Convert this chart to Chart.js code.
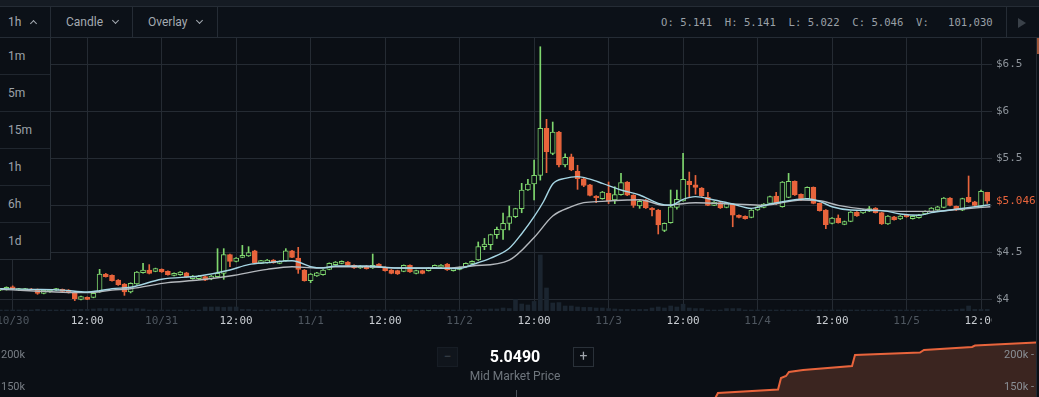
<!DOCTYPE html>
<html><head><meta charset="utf-8">
<script src="https://cdn.jsdelivr.net/npm/chart.js@4.4.1/dist/chart.umd.min.js"></script>
<style>
*{box-sizing:border-box}
html,body{margin:0;padding:0;background:#0b0f15;width:1039px;height:397px;overflow:hidden;font-family:Roboto,"Noto Sans",sans-serif;position:relative}
.abs{position:absolute}
#strip{left:0;top:0;width:1039px;height:7px;background:#151b23;border-bottom:1px solid #252c35}
#toolbar{left:0;top:7px;width:1039px;height:31px;background:#0c1118;border-bottom:1px solid #252c35}
.sep{position:absolute;top:7px;width:1px;height:30px;background:#252c35}
.tb{position:absolute;top:15px;font-size:12px;color:#a4aab1;line-height:14px}
.chev{position:absolute;width:5px;height:5px;border-right:1.5px solid #a4aab1;border-bottom:1.5px solid #a4aab1}
#ohlc{position:absolute;left:661px;top:16px;font-family:"DejaVu Sans Mono",monospace;font-size:10.6px;color:#9aa0a7;white-space:pre;line-height:12px}
#menu{left:0;top:38px;width:51px;height:222px;background:#0b0f15;border-right:1px solid #272e36;border-bottom:1px solid #272e36;z-index:5}
.mi{height:37px;border-bottom:1px solid #20262e;font-size:12px;color:#9ca2a9;padding-left:8px;line-height:37px}
.mi:last-child{border-bottom:none}
canvas{position:absolute;left:0}
</style></head>
<body>
<div id="strip" class="abs"></div>
<div id="toolbar" class="abs"></div>
<div class="sep" style="left:50px"></div>
<div class="sep" style="left:132px"></div>
<div class="sep" style="left:217px"></div>
<div class="sep" style="left:1006px"></div>
<div class="tb" style="left:8px">1h</div>
<div class="chev" style="left:31px;top:21px;transform:rotate(-135deg)"></div>
<div class="tb" style="left:66px">Candle</div>
<div class="chev" style="left:113px;top:18px;transform:rotate(45deg)"></div>
<div class="tb" style="left:148px">Overlay</div>
<div class="chev" style="left:197px;top:18px;transform:rotate(45deg)"></div>
<div id="ohlc">O: 5.141  H: 5.141  L: 5.022  C: 5.046  V:   101,030</div>
<div class="abs" style="left:1018px;top:18px;width:0;height:0;border-left:8px solid #3a4149;border-top:5px solid transparent;border-bottom:5px solid transparent"></div>

<canvas id="main" width="1036" height="297" style="top:38px"></canvas>
<canvas id="depth" width="1036" height="59" style="top:338px"></canvas>

<div id="menu" class="abs">
  <div class="mi">1m</div><div class="mi">5m</div><div class="mi">15m</div>
  <div class="mi">1h</div><div class="mi">6h</div><div class="mi">1d</div>
</div>

<div class="abs" style="left:1036px;top:38px;width:1px;height:359px;background:#222931"></div>
<div class="abs" style="left:1037px;top:38px;width:2px;height:16px;background:#a1573a"></div>

<div class="abs" style="left:437px;top:347px;width:21px;height:20px;background:#10151c;border:1px solid #171d25;color:#3b424a;font-size:14px;line-height:17px;text-align:center">−</div>
<div class="abs" style="left:573px;top:347px;width:21px;height:20px;border:1px solid #2a3139;color:#a0a6ad;font-size:14px;line-height:17px;text-align:center">+</div>
<div class="abs" style="left:465px;top:347px;width:100px;text-align:center;font-size:16px;font-weight:bold;color:#ffffff;line-height:20px">5.0490</div>
<div class="abs" style="left:455px;top:369px;width:120px;text-align:center;font-size:12px;color:#6f767d;line-height:14px">Mid Market Price</div>
<div class="abs" style="left:516px;top:390px;width:1px;height:7px;background:#4a5058"></div>

<script>
// ---------- data ----------
const firstHour = -2; // hours relative to 10/30 00:00, one candle per hour
const opens = [
4.100,4.108,4.136,4.101,4.101,4.112,4.108,4.066,4.080,4.101,
4.108,4.101,4.080,4.002,4.023,4.023,4.080,4.271,4.257,4.207,
4.165,4.080,4.165,4.285,4.314,4.300,4.321,4.300,4.257,4.264,
4.285,4.222,4.222,4.243,4.222,4.243,4.278,4.477,4.406,4.449,
4.463,4.519,4.385,4.392,4.420,4.385,4.413,4.519,4.441,4.314,
4.200,4.250,4.264,4.321,4.371,4.385,4.399,4.363,4.335,4.356,
4.335,4.378,4.342,4.314,4.307,4.300,4.363,4.278,4.307,4.307,
4.335,4.343,4.378,4.307,4.320,4.343,4.385,4.420,4.562,4.583,
4.690,4.740,4.810,4.880,4.966,5.165,5.229,5.321,5.821,5.555,
5.782,5.433,5.519,5.364,5.285,5.221,5.100,5.072,5.130,5.060,
5.115,5.250,5.110,4.995,5.059,4.973,4.952,4.735,4.817,4.980,
5.050,5.257,5.221,5.186,5.087,5.002,5.030,4.980,5.016,4.896,
4.885,4.874,4.952,4.980,5.023,5.101,4.987,5.087,5.257,5.120,
5.072,5.193,5.023,4.952,4.810,4.867,4.800,4.832,4.931,4.920,
4.940,4.973,4.924,4.803,4.880,4.856,4.900,4.860,4.870,4.910,
4.935,4.952,4.980,5.080,4.990,4.950,5.087,5.040,4.990,5.141];
const highs = [
4.120,4.135,4.145,4.120,4.120,4.118,4.112,4.108,4.106,4.120,
4.112,4.106,4.085,4.036,4.028,4.072,4.321,4.278,4.262,4.212,
4.170,4.178,4.298,4.385,4.371,4.334,4.326,4.305,4.284,4.298,
4.290,4.256,4.256,4.248,4.256,4.541,4.541,4.482,4.446,4.576,
4.562,4.524,4.418,4.426,4.425,4.412,4.541,4.524,4.555,4.319,
4.276,4.290,4.319,4.390,4.404,4.411,4.404,4.368,4.361,4.361,
4.484,4.383,4.347,4.319,4.312,4.368,4.368,4.312,4.312,4.340,
4.368,4.372,4.383,4.337,4.348,4.390,4.411,4.612,4.650,4.695,
4.770,4.920,4.995,4.971,5.236,5.279,5.484,6.689,5.917,5.888,
5.790,5.550,5.547,5.428,5.290,5.226,5.105,5.150,5.250,5.200,
5.342,5.255,5.115,5.065,5.064,4.978,4.957,4.815,5.165,5.165,
5.555,5.356,5.320,5.191,5.140,5.042,5.035,5.025,5.021,4.901,
4.890,4.957,4.992,5.021,5.099,5.140,5.255,5.342,5.262,5.125,
5.198,5.198,5.028,4.957,4.872,4.900,4.835,4.936,4.936,4.957,
4.990,4.978,4.929,4.893,4.885,4.893,4.905,4.890,4.905,4.943,
4.978,4.992,5.085,5.085,4.995,5.078,5.314,5.045,5.165,5.141];
const lows = [
4.095,4.100,4.110,4.095,4.095,4.105,4.055,4.060,4.075,4.096,
4.082,4.068,3.988,3.996,3.998,4.018,4.075,4.238,4.195,4.150,
4.044,4.070,4.160,4.280,4.272,4.295,4.288,4.258,4.250,4.258,
4.236,4.216,4.210,4.200,4.210,4.236,4.215,4.349,4.400,4.444,
4.458,4.386,4.380,4.386,4.386,4.380,4.408,4.444,4.278,4.195,
4.179,4.245,4.258,4.316,4.366,4.380,4.358,4.330,4.330,4.323,
4.330,4.344,4.302,4.273,4.266,4.295,4.288,4.273,4.273,4.302,
4.330,4.338,4.309,4.302,4.315,4.338,4.380,4.415,4.530,4.530,
4.650,4.640,4.740,4.870,4.923,5.160,5.060,5.270,5.349,5.540,
5.410,5.410,5.370,5.172,5.200,5.103,5.030,5.067,5.020,5.020,
5.110,5.105,4.980,4.970,4.968,4.888,4.697,4.722,4.812,4.960,
5.045,5.094,5.120,5.096,4.997,4.997,4.968,4.975,4.774,4.869,
4.855,4.869,4.947,4.975,5.018,5.011,4.982,5.082,5.107,5.054,
5.067,5.018,4.940,4.753,4.805,4.812,4.795,4.827,4.885,4.915,
4.935,4.919,4.798,4.798,4.845,4.851,4.875,4.855,4.865,4.905,
4.930,4.947,4.975,4.995,4.947,4.945,5.032,4.995,4.985,5.022];
const closes = [
4.115,4.129,4.115,4.115,4.115,4.110,4.066,4.101,4.101,4.115,
4.087,4.073,4.009,4.030,4.002,4.066,4.271,4.243,4.200,4.158,
4.080,4.172,4.293,4.314,4.278,4.328,4.293,4.264,4.278,4.293,
4.243,4.250,4.250,4.207,4.250,4.278,4.477,4.406,4.441,4.470,
4.498,4.392,4.413,4.420,4.392,4.406,4.519,4.449,4.321,4.200,
4.271,4.285,4.314,4.385,4.399,4.406,4.363,4.335,4.356,4.328,
4.363,4.349,4.307,4.278,4.271,4.363,4.293,4.307,4.278,4.335,
4.363,4.367,4.314,4.332,4.343,4.385,4.406,4.562,4.590,4.690,
4.746,4.810,4.881,4.966,5.165,5.229,5.321,5.821,5.573,5.782,
5.431,5.512,5.378,5.285,5.215,5.108,5.080,5.144,5.045,5.115,
5.243,5.110,5.000,5.044,4.973,4.952,4.793,4.810,4.987,5.066,
5.279,5.221,5.193,5.101,5.002,5.037,4.973,5.020,4.896,4.874,
4.860,4.952,4.987,5.016,5.094,5.016,5.250,5.257,5.112,5.059,
5.193,5.023,4.945,4.796,4.867,4.817,4.830,4.931,4.890,4.952,
4.966,4.924,4.803,4.888,4.850,4.888,4.880,4.885,4.900,4.938,
4.973,4.987,5.080,5.000,4.952,5.073,5.037,5.000,5.151,5.046];
const volumes = [
5,5,5,5,5,5,8,5,5,5,
5,5,8,8,8,10,12,12,12,10,
12,10,12,10,5,5,5,5,5,5,
5,5,5,20,20,20,18,20,20,8,
8,5,5,5,8,8,8,8,8,8,
5,5,5,5,5,5,5,5,5,5,
5,5,5,5,5,5,5,5,5,5,
5,5,5,5,5,5,5,8,8,10,
10,15,12,58,35,30,48,280,115,40,
42,25,25,20,18,18,15,15,12,10,
8,8,8,8,8,15,20,15,25,20,
34,15,12,12,5,5,5,12,12,12,
5,5,5,5,5,5,5,5,5,5,
5,5,5,5,5,5,5,5,5,5,
5,5,5,5,5,5,5,5,5,5,
5,5,5,5,8,10,25,8,8,8];
const fastHours = [-2,3,8,12,14,16,19,24,30,35,38,41,45,46,48,50,52,57,62,68,72,74,77,80,82,84,85.5,87,89,91,93,95,98,101,104,106,108,110,113,116,119,122,125,128,130,132,135,140,143,146,148,151,155,157.5];
const maFast = [4.115,4.108,4.100,4.080,4.094,4.115,4.130,4.215,4.250,4.314,4.371,4.392,4.413,4.399,4.349,4.335,4.356,4.356,4.335,4.335,4.330,4.370,4.440,4.545,4.700,4.881,5.040,5.229,5.289,5.307,5.280,5.236,5.165,5.112,5.023,5.002,5.066,5.094,5.059,5.016,4.970,5.016,5.051,5.072,5.044,4.987,4.952,4.945,4.910,4.896,4.924,4.952,4.987,5.009];
const slowHours = [-2,12,16,19,25,30,35,41,45,49,52,57,62,69,74,80,84,87,90,92,95,99,101,105,110,116,121,127,130,133,137.5,143,148,153.5,157.5];
const maSlow = [4.108,4.073,4.100,4.115,4.179,4.207,4.250,4.321,4.349,4.335,4.349,4.349,4.335,4.332,4.357,4.420,4.660,4.888,4.987,5.030,5.044,5.058,5.062,5.002,5.030,5.016,5.002,5.059,5.051,5.002,4.959,4.938,4.938,4.966,4.987];
const tickHours = [0,12,24,36,48,60,72,84,96,108,120,132,144,156];
const tickLabels = ['10/30','12:00','10/31','12:00','11/1','12:00','11/2','12:00','11/3','12:00','11/4','12:00','11/5','12:00'];
const priceTicks = [4,4.5,5,5.5,6,6.5];
const depthPrice = [5.1824,5.1851,5.2257,5.2277,5.2311,5.2331,5.2426,5.2757,5.2777,5.3216,5.3243,5.3568,5.3588,5.4000];
const depthVolume = [129,140.6,146.1,164,167.2,173.4,176.6,182.8,200,203.9,207.8,212.5,214.8,219.5];
const depthTicks = [150,200];

// ---------- styles ----------
const BG = '#0b0f15', GRID = '#252b33', GREEN = '#7fd66e', RED = '#e8643c', VOL = '#1b2530';
const MONO = 'DejaVu Sans Mono';
const lastPrice = closes[closes.length - 1];
const hours = opens.map((_, i) => firstHour + i);
const isUp = closes.map((c, i) => c >= opens[i]);

const coverCorner = {
  id: 'coverCorner',
  beforeDatasetsDraw(chart) {
    const {ctx, chartArea} = chart;
    ctx.save();
    ctx.fillStyle = BG;
    ctx.fillRect(chartArea.right, chartArea.bottom, chart.width - chartArea.right, chart.height - chartArea.bottom);
    ctx.restore();
  }
};

new Chart(document.getElementById('main'), {
  type: 'bar',
  data: {
    datasets: [
      { type: 'line', data: fastHours.map((h, i) => ({x: h, y: maFast[i]})), borderColor: '#a6d6e4', borderWidth: 1.4,
        pointRadius: 0, cubicInterpolationMode: 'monotone', order: 0, yAxisID: 'y' },
      { type: 'line', data: slowHours.map((h, i) => ({x: h, y: maSlow[i]})), borderColor: '#b4b8bd', borderWidth: 1.4,
        pointRadius: 0, cubicInterpolationMode: 'monotone', order: 0.5, yAxisID: 'y' },
      { data: hours.map((h, i) => ({x: h, y: [opens[i], closes[i]]})), barThickness: 5, grouped: false,
        backgroundColor: isUp.map(u => u ? BG : RED), borderColor: isUp.map(u => u ? GREEN : RED),
        borderWidth: 1, borderSkipped: false, order: 1, yAxisID: 'y' },
      { data: hours.map((h, i) => ({x: h, y: [lows[i], highs[i]]})), barThickness: 1, grouped: false,
        backgroundColor: isUp.map(u => u ? GREEN : RED), borderWidth: 0, order: 2, yAxisID: 'y' },
      { data: hours.map((h, i) => ({x: h, y: volumes[i]})), barThickness: 4, grouped: false,
        backgroundColor: VOL, borderWidth: 0, order: 5, yAxisID: 'yv' }
    ]
  },
  options: {
    animation: false, responsive: false, devicePixelRatio: 1,
    layout: {padding: 0},
    plugins: {legend: {display: false}, tooltip: {enabled: false}},
    scales: {
      x: {
        type: 'linear', min: -2.046, max: 157.77, offset: false,
        grid: {color: GRID, offset: false, drawTicks: false},
        border: {display: false},
        afterBuildTicks: s => { s.ticks = tickHours.map(v => ({value: v})); },
        afterFit: s => { s.height = 24; s.paddingLeft = 0; s.paddingRight = 0; },
        ticks: {
          autoSkip: false, maxRotation: 0, minRotation: 0, padding: 4,
          font: {family: MONO, size: 11},
          color: c => (tickLabels[c.index] === '12:00' ? '#c9cdd2' : '#4f5760'),
          callback: (v, i) => tickLabels[i]
        }
      },
      y: {
        position: 'right', min: 3.8777, max: 6.782,
        grid: {color: c => (c.tick && Math.abs(c.tick.value - lastPrice) < 1e-9 ? 'rgba(0,0,0,0)' : GRID), drawTicks: false},
        border: {display: false},
        afterBuildTicks: s => { s.ticks = priceTicks.concat([lastPrice]).map(v => ({value: v})); },
        afterFit: s => { s.width = 44; s.paddingTop = 0; s.paddingBottom = 0; },
        ticks: {
          padding: 4, font: {family: MONO, size: 11},
          color: c => (Math.abs(c.tick.value - lastPrice) < 1e-9 ? RED : '#8d939a'),
          callback: v => (v === 5 ? '' : '$' + v)
        }
      },
      yv: { display: false, min: 0, max: 1365 }
    }
  },
  plugins: [coverCorner]
});

new Chart(document.getElementById('depth'), {
  type: 'line',
  data: { datasets: [{
    data: depthPrice.map((p, i) => ({x: p, y: depthVolume[i]})),
    borderColor: RED, borderWidth: 2, backgroundColor: '#3b2520', fill: 'start', pointRadius: 0, tension: 0
  }]},
  options: {
    animation: false, responsive: false, devicePixelRatio: 1,
    layout: {padding: 0},
    plugins: {legend: {display: false}, tooltip: {enabled: false}},
    scales: {
      x: {type: 'linear', min: 4.70, max: 5.40, display: false},
      y: {
        position: 'left', min: 134.375, max: 226.56,
        grid: {display: false}, border: {display: false},
        afterBuildTicks: s => { s.ticks = depthTicks.map(v => ({value: v})); },
        afterFit: s => { s.width = 0; s.paddingTop = 0; s.paddingBottom = 0; },
        ticks: {mirror: true, padding: 1, color: '#787e85', font: {family: 'Roboto', size: 11}, callback: v => v + 'k'}
      },
      y2: {
        position: 'right', min: 134.375, max: 226.56,
        grid: {display: false}, border: {display: false},
        afterBuildTicks: s => { s.ticks = depthTicks.map(v => ({value: v})); },
        afterFit: s => { s.width = 0; s.paddingTop = 0; s.paddingBottom = 0; },
        ticks: {z: 1, mirror: true, padding: -2, color: '#8a8f95', font: {family: 'Roboto', size: 11}, callback: v => v + 'k -'}
      }
    }
  }
});
</script>
</body></html>
